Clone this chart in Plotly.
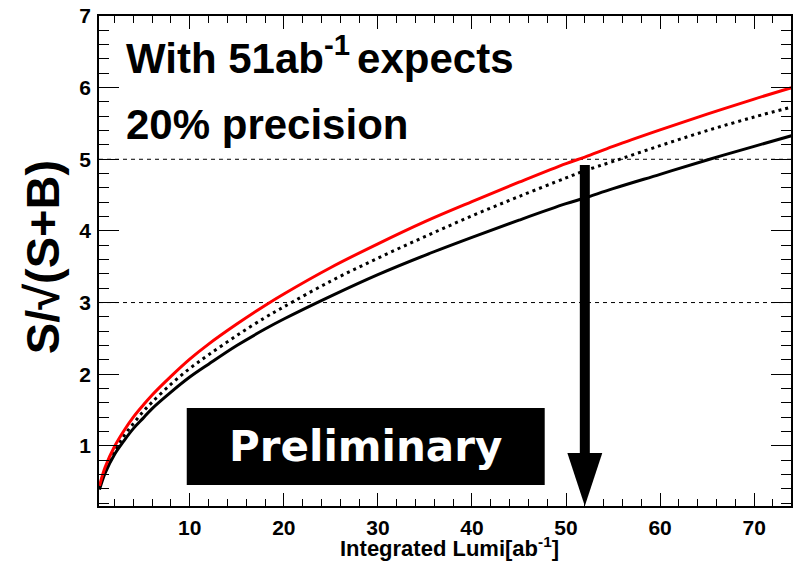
import plotly.graph_objects as go

# Integrated luminosity [ab^-1] and expected significance S/sqrt(S+B)
lumi = [0.4, 1, 2, 3, 4, 5, 6, 8, 10, 12, 15, 18, 20, 25, 30, 35, 40, 45, 50, 52, 55, 60, 65, 70, 74]
signif_red = [0.44, 0.70, 0.99, 1.21, 1.40, 1.56, 1.71, 1.97, 2.21, 2.42, 2.70, 2.96, 3.12, 3.49,
              3.82, 4.13, 4.41, 4.68, 4.94, 5.03, 5.18, 5.41, 5.63, 5.84, 6.00]
signif_dotted = [0.42, 0.66, 0.93, 1.14, 1.31, 1.47, 1.61, 1.86, 2.08, 2.27, 2.54, 2.79, 2.94, 3.30,
                 3.62, 3.92, 4.21, 4.48, 4.74, 4.84, 4.97, 5.19, 5.40, 5.59, 5.73]
signif_black = [0.39, 0.62, 0.88, 1.07, 1.24, 1.38, 1.52, 1.75, 1.96, 2.14, 2.40, 2.63, 2.77, 3.09,
                3.39, 3.66, 3.91, 4.15, 4.38, 4.46, 4.59, 4.79, 4.99, 5.18, 5.33]

ref_levels = [3, 5]
arrow_lumi = 52
arrow_top = 4.92

W, H = 794, 561
ML, MR, MT, MB = 99, 1, 16, 55
XR = [0.35, 73.92]
YR = [0.16, 7.0]
PW, PH = W - ML - MR, H - MT - MB
px_x = PW / (XR[1] - XR[0])
px_y = PH / (YR[1] - YR[0])

FONT = "Liberation Sans"

fig = go.Figure()
fig.add_trace(go.Scatter(x=lumi, y=signif_black, mode="lines", line=dict(color="black", width=3, shape="spline")))
fig.add_trace(go.Scatter(x=lumi, y=signif_dotted, mode="lines",
                         line=dict(color="black", width=3, dash="3px,4px", shape="spline")))
fig.add_trace(go.Scatter(x=lumi, y=signif_red, mode="lines", line=dict(color="red", width=3, shape="spline")))

shapes = []
for lv in ref_levels:
    shapes.append(dict(type="line", xref="paper", yref="y", x0=0, x1=1, y0=lv, y1=lv,
                       line=dict(color="black", width=1, dash="4px,4px"), layer="below"))

# arrow: shaft + triangular head ending on the x axis
head_h = 53 / px_y
head_hw = 17.5 / px_x
tip = YR[0]
shapes.append(dict(type="line", xref="x", yref="y", x0=arrow_lumi, x1=arrow_lumi,
                   y0=arrow_top, y1=tip + head_h, line=dict(color="black", width=10)))
shapes.append(dict(type="path", xref="x", yref="y",
                   path=f"M {arrow_lumi - head_hw},{tip + head_h} L {arrow_lumi + head_hw},{tip + head_h} "
                        f"L {arrow_lumi},{tip} Z",
                   fillcolor="black", line=dict(color="black", width=0)))

# "Preliminary" box
def pxx(p):
    return (p - ML) / PW

def pxy(p):
    return 1 - (p - MT) / PH

shapes.append(dict(type="rect", xref="paper", yref="paper", x0=pxx(187), x1=pxx(546),
                   y0=pxy(485), y1=pxy(408), fillcolor="black", line=dict(width=0)))

annotations = [
    dict(text="<b>With 51ab<sup>-1</sup>\u2006expects</b>", xref="paper", yref="paper", x=pxx(124), y=pxy(55),
         xanchor="left", yanchor="middle", showarrow=False, font=dict(family=FONT, size=42, color="black")),
    dict(text="<b>20% precision</b>", xref="paper", yref="paper", x=pxx(124), y=pxy(124.5),
         xanchor="left", yanchor="middle", showarrow=False, font=dict(family=FONT, size=42, color="black")),
    dict(text="<b>Preliminary</b>", xref="paper", yref="paper", x=pxx(366.5), y=pxy(446.5),
         xanchor="center", yanchor="middle", showarrow=False,
         font=dict(family="DejaVu Sans", size=42, color="white")),
    dict(text="<b>Integrated Lumi[ab<sup>-1</sup>]</b>", xref="paper", yref="paper", x=pxx(451), y=pxy(547),
         xanchor="center", yanchor="middle", showarrow=False, font=dict(family=FONT, size=22, color="black")),
    dict(text="<b>S/√(S+B)</b>", xref="paper", yref="paper", x=pxx(42.5), y=pxy(257.5), textangle=-90,
         xanchor="center", yanchor="middle", showarrow=False, font=dict(family=FONT, size=47, color="black")),
]

tickfont = dict(family=FONT, size=21, color="black", weight="bold")

fig.update_layout(
    width=W, height=H,
    margin=dict(l=ML, r=MR, t=MT, b=MB),
    paper_bgcolor="white", plot_bgcolor="white",
    showlegend=False,
    shapes=shapes, annotations=annotations,
    xaxis=dict(range=XR, showgrid=False, zeroline=False, showline=True, linecolor="black", linewidth=1.5,
               mirror="allticks", ticks="inside", ticklen=13, tickwidth=1, tickcolor="black",
               tick0=0, dtick=10, tickfont=tickfont, ticklabelstandoff=2,
               minor=dict(ticks="inside", ticklen=7, dtick=2, tick0=0, tickcolor="black", tickwidth=1,
                          showgrid=False)),
    yaxis=dict(range=YR, showgrid=False, zeroline=False, showline=True, linecolor="black", linewidth=1.5,
               mirror="allticks", ticks="inside", ticklen=20, tickwidth=1, tickcolor="black",
               tick0=0, dtick=1, tickfont=tickfont, ticklabelstandoff=2,
               minor=dict(ticks="inside", ticklen=10, dtick=0.2, tick0=0, tickcolor="black", tickwidth=1,
                          showgrid=False)),
)

fig.write_html("out.html")
